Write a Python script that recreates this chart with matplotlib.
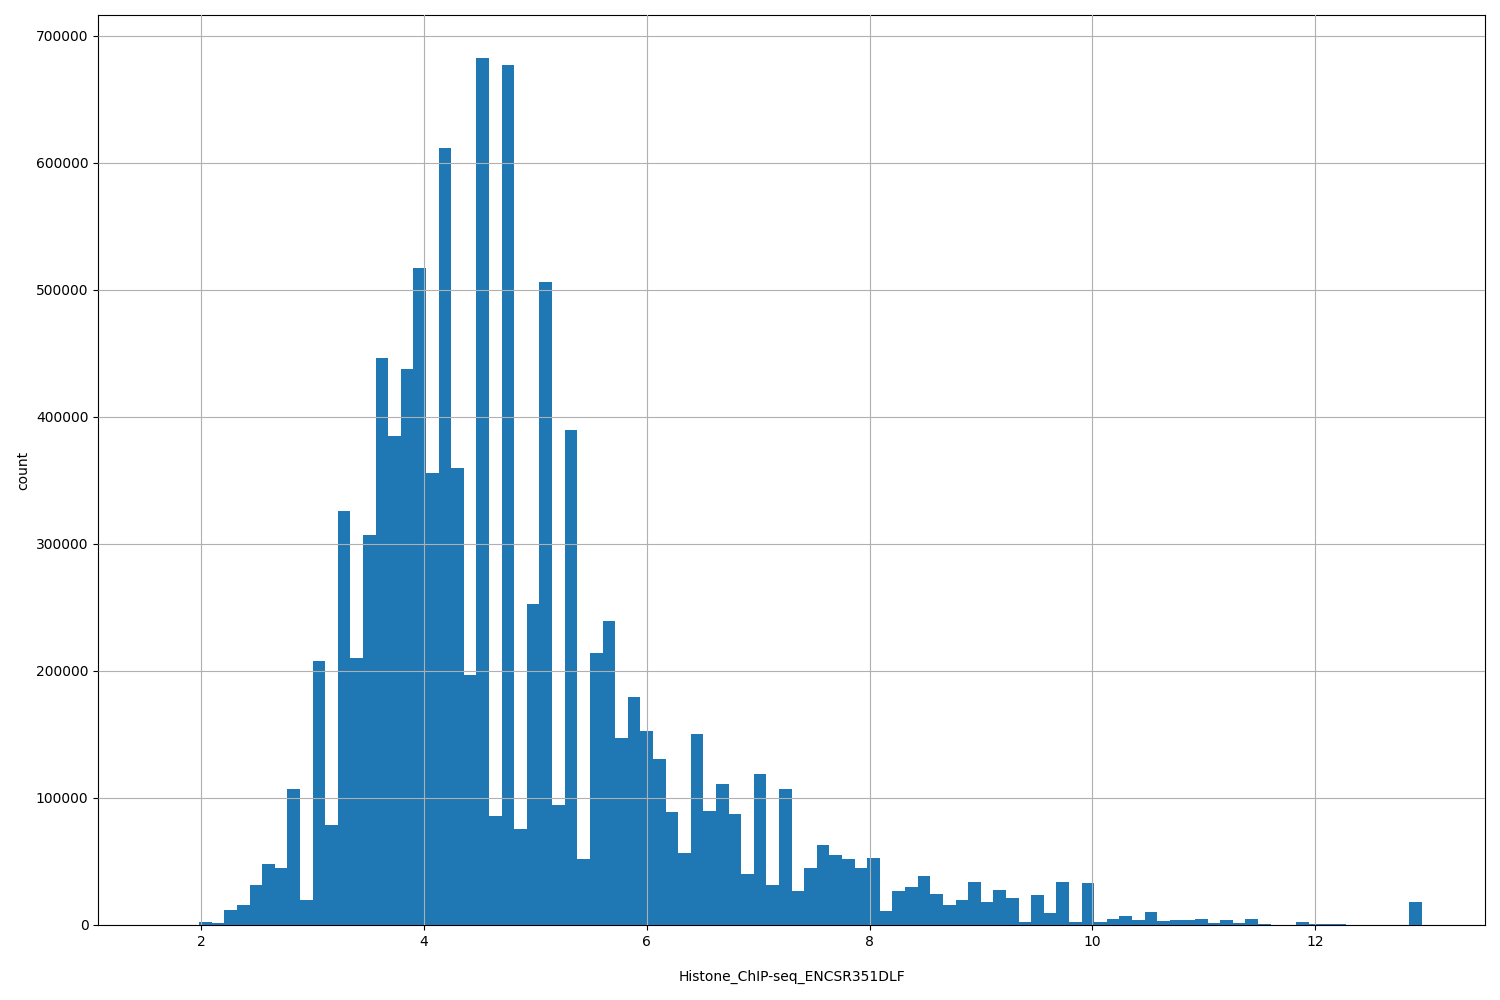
import matplotlib
matplotlib.use("Agg")
import matplotlib.pyplot as plt
import numpy as np

# histogram range and counts (100 bins)
lo = 1.641
hi = 12.959
counts = [
    50, 0, 200, 2600, 1800, 12000, 16000, 31700, 48200, 45100,
    107200, 19900, 208100, 78900, 325500, 210500, 307300, 446700, 385300, 438000,
    517500, 355400, 612000, 360100, 197100, 682200, 86000, 676700, 75500, 253000,
    506500, 94400, 390000, 51900, 214400, 239600, 147000, 179800, 152600, 130600,
    88900, 56600, 150200, 89700, 110900, 87300, 40100, 118800, 31500, 107000,
    26700, 44800, 62900, 55100, 52000, 45100, 53000, 11300, 27000, 30200,
    38800, 24700, 16000, 19900, 34100, 18400, 27800, 21500, 2600, 23900,
    9700, 34100, 2600, 33300, 2600, 5000, 7300, 4200, 10500, 3400,
    4200, 4000, 4800, 1600, 3900, 1600, 4700, 800, 0, 0,
    2400, 800, 800, 800, 0, 0, 0, 0, 0, 18100,
]
xlabel = "Histone_ChIP-seq_ENCSR351DLF"

edges = np.linspace(lo, hi, len(counts) + 1)
centers = (edges[:-1] + edges[1:]) / 2

fig, ax = plt.subplots(figsize=(15, 10), dpi=100)
fig.subplots_adjust(left=0.0655, right=0.99, top=0.985, bottom=0.075)

ax.hist(centers, bins=edges, weights=counts, color="#1f77b4")
ax.grid(True)
ax.set_axisbelow(False)
ax.set_xlabel(xlabel, labelpad=15.5)
ax.set_ylabel("count")

fig.savefig("out.png")
